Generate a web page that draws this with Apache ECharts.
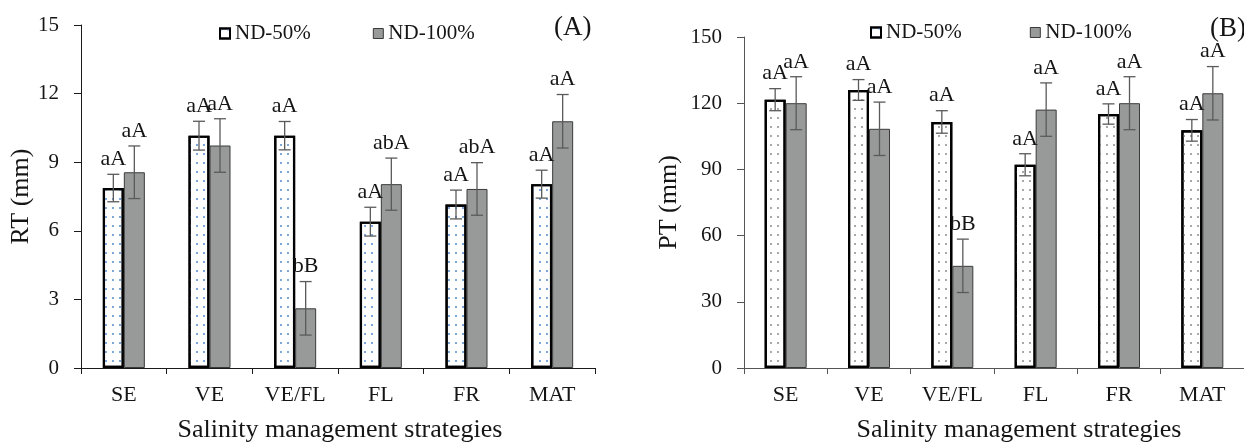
<!DOCTYPE html>
<html>
<head>
<meta charset="utf-8">
<script src="https://cdn.jsdelivr.net/npm/echarts@6/dist/echarts.min.js"></script>
<style>
html,body{margin:0;padding:0;background:#fff;}
#chart{width:1244px;height:448px;}
</style>
</head>
<body>
<div id="chart"></div>
<script>
// ---- data ----
const categories = ['SE', 'VE', 'VE/FL', 'FL', 'FR', 'MAT'];
const seriesNames = ['ND-50%', 'ND-100%'];

const rt50 = [7.87, 10.16, 10.16, 6.40, 7.15, 8.04];
const rt50Err = [0.60, 0.63, 0.62, 0.63, 0.63, 0.61];
const rt50Letters = ['aA', 'aA', 'aA', 'aA', 'aA', 'aA'];
const rt100 = [8.56, 9.73, 2.61, 8.04, 7.83, 10.79];
const rt100Err = [1.15, 1.17, 1.17, 1.14, 1.15, 1.17];
const rt100Letters = ['aA', 'aA', 'bB', 'abA', 'abA', 'aA'];

const pt50 = [121.6, 126.0, 111.5, 92.1, 115.1, 107.7];
const pt50Err = [5.0, 4.7, 5.1, 5.0, 4.6, 4.9];
const pt50Letters = ['aA', 'aA', 'aA', 'aA', 'aA', 'aA'];
const pt100 = [120.0, 108.4, 46.3, 117.1, 120.0, 124.5];
const pt100Err = [12.0, 12.1, 12.1, 12.1, 12.0, 12.1];
const pt100Letters = ['aA', 'aA', 'bB', 'aA', 'aA', 'aA'];

const rtTicks = {min: 0, max: 15, interval: 3};
const ptTicks = {min: 0, max: 150, interval: 30};

// ---- style ----
const FONT = "'Liberation Serif', 'Times New Roman', serif";
const TXT = '#151515';
const BAR_W = 21;
const GREY = '#989a9a';

function whiteStyle(dotColor) {
  return {
    color: '#ffffff', borderColor: '#000000', borderWidth: 2.2,
    decal: {symbol: 'rect', symbolSize: 1, dashArrayX: [1.5, 5], dashArrayY: [1.5, 7], color: dotColor}
  };
}
const greyStyle = {color: GREY, borderColor: '#3a3a3a', borderWidth: 1};

function errSeries(xi, yi, means, errs, letters, side) {
  const data = means.map((m, i) => [i, m, errs[i], letters[i]]);
  return {
    type: 'custom', xAxisIndex: xi, yAxisIndex: yi, z: 5, silent: true,
    data: data,
    encode: {x: 0, y: 1},
    renderItem: function (params, api) {
      const idx = api.value(0), m = api.value(1), e = api.value(2);
      const label = letters[params.dataIndex];
      const c = api.coord([idx, m]);
      const x = c[0] + side * BAR_W / 2;
      const yt = api.coord([idx, m + e])[1];
      const yb = api.coord([idx, m - e])[1];
      const st = {stroke: '#5a5a5a', lineWidth: 1.3};
      const cap = 6;
      return {
        type: 'group',
        children: [
          {type: 'line', shape: {x1: x, y1: yt, x2: x, y2: yb}, style: st},
          {type: 'line', shape: {x1: x - cap, y1: yt, x2: x + cap, y2: yt}, style: st},
          {type: 'line', shape: {x1: x - cap, y1: yb, x2: x + cap, y2: yb}, style: st},
          {type: 'text', style: {
            text: label, x: x, y: yt - 4,
            textAlign: 'center', textVerticalAlign: 'bottom',
            align: 'center', verticalAlign: 'bottom',
            fontSize: 22, fontFamily: FONT, fill: TXT
          }}
        ]
      };
    }
  };
}

function xAxisFor(gi, lineColor, namePad) {
  return {
    type: 'category', gridIndex: gi, data: categories,
    axisLine: {lineStyle: {color: lineColor, width: 1}},
    axisTick: {show: true, length: 6, lineStyle: {color: lineColor}},
    axisLabel: {color: TXT, fontFamily: FONT, fontSize: 22, margin: 16},
    name: 'Salinity management strategies', nameLocation: 'middle', nameGap: 49,
    nameTextStyle: {color: TXT, fontFamily: FONT, fontSize: 26, padding: namePad}
  };
}
function yAxisFor(gi, ticks, name, gap, lineColor, margin) {
  return {
    type: 'value', gridIndex: gi, min: ticks.min, max: ticks.max, interval: ticks.interval,
    axisLine: {show: true, lineStyle: {color: lineColor, width: 1}},
    axisTick: {show: true, length: 7, lineStyle: {color: lineColor}},
    splitLine: {show: false},
    axisLabel: {color: TXT, fontFamily: FONT, fontSize: 21, margin: margin},
    name: name, nameLocation: 'middle', nameGap: gap, nameRotate: 90,
    nameTextStyle: {color: TXT, fontFamily: FONT, fontSize: 26}
  };
}

function barSeries(name, xi, yi, vals, style) {
  return {
    name: name, type: 'bar', xAxisIndex: xi, yAxisIndex: yi, data: vals,
    barWidth: BAR_W, barGap: '0%', itemStyle: style, z: 2
  };
}

const legendText = {color: TXT, fontFamily: FONT, fontSize: 21};
const legendData = [
  {name: seriesNames[0], itemStyle: {color: '#fff', borderColor: '#000', borderWidth: 2}},
  {name: seriesNames[1], itemStyle: {color: GREY, borderColor: '#3a3a3a', borderWidth: 1}}
];

const option = {
  animation: false,
  backgroundColor: '#ffffff',
  title: [
    {text: '(A)', left: 549, top: 9, textStyle: {color: TXT, fontFamily: FONT, fontSize: 27, fontWeight: 'normal'}},
    {text: '(B)', left: 1205, top: 10, textStyle: {color: TXT, fontFamily: FONT, fontSize: 27, fontWeight: 'normal'}}
  ],
  legend: [
    {left: 214, top: 18, icon: 'rect', itemWidth: 10, itemHeight: 10, itemGap: 62, textStyle: legendText, data: legendData, selectedMode: false},
    {left: 865, top: 17, icon: 'rect', itemWidth: 10, itemHeight: 10, itemGap: 68, textStyle: legendText, data: legendData, selectedMode: false}
  ],
  grid: [
    {left: 81, top: 25, width: 514, height: 347},
    {left: 744, top: 37, width: 506, height: 337}
  ],
  xAxis: [xAxisFor(0, '#1a1a1a', [0, 0, 0, 4]), xAxisFor(1, '#555555', [0, 0, 0, 50])],
  yAxis: [yAxisFor(0, rtTicks, 'RT (mm)', 47, '#1a1a1a', 22), yAxisFor(1, ptTicks, 'PT (mm)', 62, '#555555', 22)],
  series: [
    barSeries(seriesNames[0], 0, 0, rt50, whiteStyle('#7ea8dc')),
    barSeries(seriesNames[1], 0, 0, rt100, greyStyle),
    barSeries(seriesNames[0], 1, 1, pt50, whiteStyle('#a8a8a8')),
    barSeries(seriesNames[1], 1, 1, pt100, greyStyle),
    errSeries(0, 0, rt50, rt50Err, rt50Letters, -1),
    errSeries(0, 0, rt100, rt100Err, rt100Letters, 1),
    errSeries(1, 1, pt50, pt50Err, pt50Letters, -1),
    errSeries(1, 1, pt100, pt100Err, pt100Letters, 1)
  ]
};

const chart = echarts.init(document.getElementById('chart'), null, {renderer: 'canvas'});
chart.setOption(option);
</script>
</body>
</html>
